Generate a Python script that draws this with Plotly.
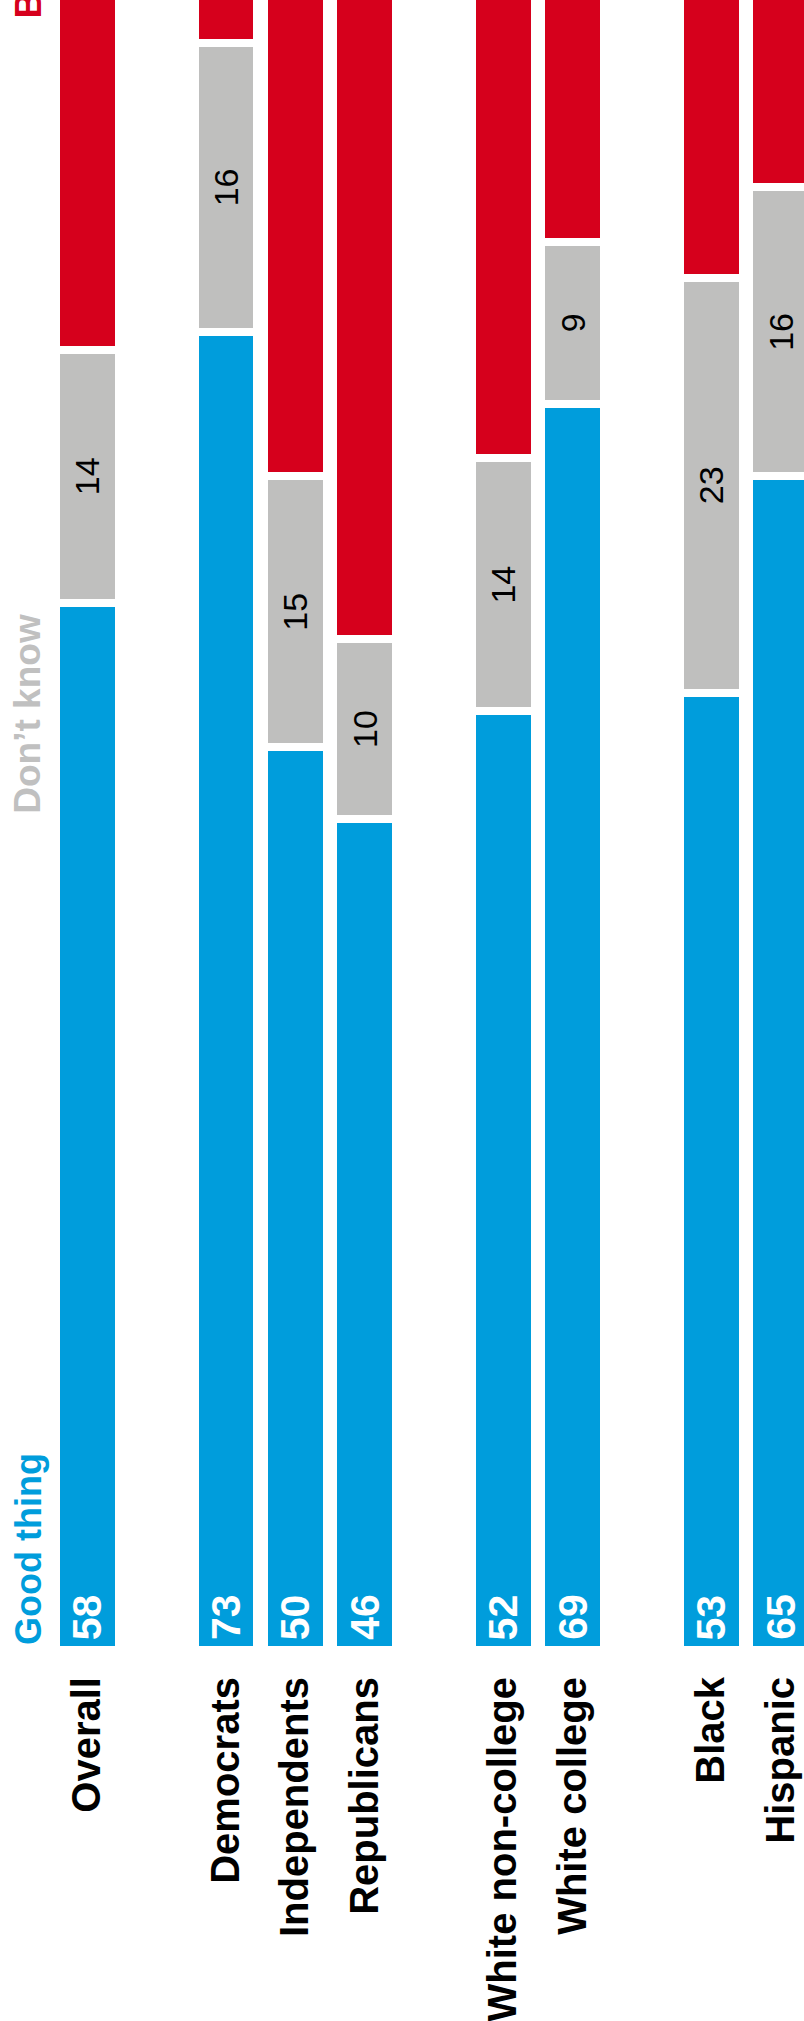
import plotly.graph_objects as go

# ---- data ----
categories = ["Overall", "Democrats", "Independents", "Republicans",
              "White non-college", "White college", "Black", "Hispanic"]
slots = [0, 2, 3, 4, 6, 7, 9, 10]          # position of each bar (blank slots separate groups)
good_thing = [58, 73, 50, 46, 52, 69, 53, 65]
dont_know = [14, 16, 15, 10, 14, 9, 23, 16]
bad_thing = [28, 11, 35, 44, 34, 22, 24, 19]   # cut off at the top of the picture

BLUE = "#009ddc"
GRAY = "#bfbfbe"
RED = "#d6001c"
FONT = "Liberation Sans, Arial, Helvetica, sans-serif"

fig = go.Figure()

fig.add_trace(go.Bar(
    x=slots, y=good_thing, name="Good thing",
    marker=dict(color=BLUE, line=dict(color="white", width=8)),
    hoverinfo="skip",
))
fig.add_trace(go.Bar(
    x=slots, y=dont_know, name="Don't know",
    marker=dict(color=GRAY, line=dict(color="white", width=8)),
    text=dont_know, texttemplate="%{text}", textposition="inside",
    insidetextanchor="middle", textangle=-90, constraintext="none",
    textfont=dict(family=FONT, size=34, color="black"),
    hoverinfo="skip",
))
fig.add_trace(go.Bar(
    x=slots, y=bad_thing, name="Bad thing",
    marker=dict(color=RED, line=dict(color="white", width=8)),
    hoverinfo="skip",
))

# value labels at the base of the "Good thing" bars
for xs, v in zip(slots, good_thing):
    fig.add_annotation(x=xs, y=0, xref="x", yref="y", text=str(v),
                       textangle=-90, showarrow=False, xanchor="center", yanchor="bottom",
                       yshift=8, font=dict(family=FONT, size=41, color="white", weight="bold"))

# series headers
fig.add_annotation(x=0.0348, y=0, xref="paper", yref="paper", text="Good thing",
                   textangle=-90, showarrow=False, xanchor="center", yanchor="bottom",
                   yshift=3, font=dict(family=FONT, size=36, color=BLUE, weight="bold"))
fig.add_annotation(x=0.0348, y=58, xref="paper", yref="y", text="Don\u2019t know",
                   textangle=-90, showarrow=False, xanchor="center", yanchor="top",
                   yshift=-9, font=dict(family=FONT, size=37, color="#c0c0c0", weight="bold"))
fig.add_annotation(x=0.0348, y=0.9879, xref="paper", yref="paper", text="Bad thing",
                   textangle=-90, showarrow=False, xanchor="center", yanchor="bottom",
                   font=dict(family=FONT, size=37, color=RED, weight="bold"))

fig.update_layout(
    barmode="stack",
    bargap=0.096,
    width=804, height=2021,
    margin=dict(l=0, r=0, t=0, b=367, pad=0),
    paper_bgcolor="white", plot_bgcolor="white",
    showlegend=False,
    xaxis=dict(range=[-1.2589, 10.3346], tickmode="array", tickvals=slots,
               ticktext=categories, tickangle=-90, showgrid=False, zeroline=False,
               showline=False, ticks="", ticklabelstandoff=18,
               tickfont=dict(family=FONT, size=40, color="black", weight="bold")),
    yaxis=dict(range=[0, 91.38], visible=False, showgrid=False, zeroline=False),
)

fig.write_html("out.html",
               config={"displayModeBar": False},
               post_script="document.body.style.margin='0px';document.body.style.overflow='hidden';")
